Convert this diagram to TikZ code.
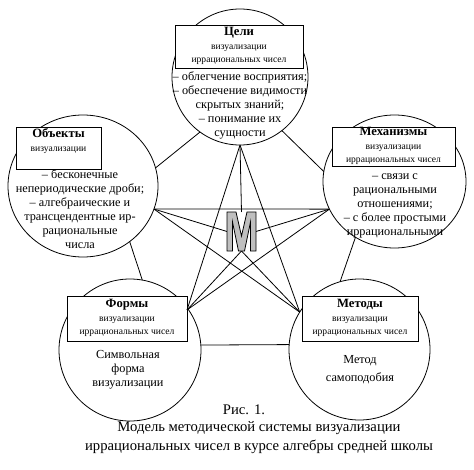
\documentclass[tikz,border=0pt]{standalone}
\usepackage{fontspec}
\setmainfont{Liberation Serif}
\usetikzlibrary{shapes.geometric}

\begin{document}
\begin{tikzpicture}[x=0.75pt, y=-0.75pt,
  ring/.style={draw, ellipse, inner sep=0pt, outer sep=0pt, line width=0.6pt},
  headbox/.style={draw, fill=white, align=center, inner sep=0pt, outer sep=0pt, line width=0.6pt, font=\fontsize{7.2}{9.8}\selectfont},
  bodytext/.style={align=center, inner sep=0pt, font=\fontsize{9.2}{10.5}\selectfont},
  link/.style={line width=0.6pt}]
\useasboundingbox (0,0) rectangle (474,470);
% five circles of the model
\node[ring, minimum width=102pt, minimum height=102pt] (celi) at (240,77) {};
\node[ring, minimum width=112.5pt, minimum height=106.5pt] (obj) at (83,186) {};
\node[ring, minimum width=107.25pt, minimum height=99.75pt] (mech) at (394.5,181.5) {};
\node[ring, minimum width=106.5pt, minimum height=106.5pt] (form) at (130,350) {};
\node[ring, minimum width=105.75pt, minimum height=105.75pt] (meth) at (359.5,349.5) {};
% outer pentagon
\draw[link] (celi.234) -- (obj.14);
\draw[link] (celi.308) -- (mech.172);
\draw[link] (obj.310) -- (form.80);
\draw[link] (mech.235) -- (meth.106);
\draw[link] (form.4) -- (meth.176);
% centre letter
\node[minimum width=21.75pt, minimum height=29.25pt, inner sep=0pt, outer sep=0pt] (emm) at (241.5,231.5) {};
% header boxes
\node[headbox, minimum width=96pt, minimum height=32.25pt, text depth=2pt] (celibox) at (239,46.5)
  {{\fontsize{9.5}{9.8}\selectfont\bfseries Цели}\\[0.7pt]визуализации\\иррациональных чисел};
\node[headbox, minimum width=63.75pt, minimum height=31.5pt, text depth=2pt] (objbox) at (58.5,148)
  {{\fontsize{9.5}{9.8}\selectfont\bfseries Объекты}\\[0.7pt]визуализации\\\mbox{}};
\node[headbox, minimum width=92.25pt, minimum height=29.25pt, text depth=2pt] (mechbox) at (393.5,146.5)
  {{\fontsize{9.5}{9.8}\selectfont\bfseries Механизмы}\\[0.7pt]визуализации\\иррациональных чисел};
\node[headbox, minimum width=90pt, minimum height=33.75pt, text depth=2pt] (formbox) at (127,318.5)
  {{\fontsize{9.5}{9.8}\selectfont\bfseries Формы}\\[0.7pt]визуализации\\иррациональных чисел};
\node[headbox, minimum width=87pt, minimum height=33.75pt, text depth=2pt] (methbox) at (360,318.5)
  {{\fontsize{9.5}{9.8}\selectfont\bfseries Методы}\\[0.7pt]визуализации\\иррациональных чисел};
% star vertices
\coordinate (vt) at (celi.south);
\coordinate (vl) at (obj.342);
\coordinate (vr) at (mech.203);
\coordinate (vbl) at ([yshift=6.4pt]formbox.east);
\coordinate (vbr) at (meth.148);
% star and spokes
\draw[link] (vt) -- (vbl) (vt) -- (vbr) (vl) -- (vr) (vl) -- (vbr) (vr) -- (vbl);
\draw[link] (vt) -- (emm.north) (vl) -- (emm.west) (vr) -- (emm.east)
  (vbl) -- (emm.south) (vbr) -- (emm.south);
\filldraw[shift={(emm.north west)}, fill=black!25, line width=0.6pt, line join=miter]
  (0,0) -- (9,0) -- (14.5,24) -- (20,0) -- (29,0) -- (29,39) -- (23.5,39) -- (23.5,10)
  -- (17.5,39) -- (11.5,39) -- (5.5,10) -- (5.5,39) -- (0,39) -- cycle;
% circle texts
\node[bodytext] (celitxt) at (240,105) {– облегчение восприятия;\\– обеспечение видимости\\скрытых знаний;\\– понимание их\\сущности};
\node[bodytext] (objtxt) at (80,209) {– бесконечные\\непериодические дроби;\\– алгебраические и\\трансцендентные ир-\\рациональные\\числа};
\node[bodytext] (mechtxt) at (395,206) {– связи с\\рациональными\\отношениями;\\– с более простыми\\иррациональными};
\node[bodytext] (formtxt) at (128,370) {Символьная\\форма\\визуализации};
\node[bodytext] (methtxt) at (360,369.5) {Метод\\[3pt]самоподобия};
% caption
\node[font=\fontsize{11}{14.6}\selectfont, inner sep=0pt] (ris) at (244,410) {Рис. 1.};
\node[font=\fontsize{11}{14.6}\selectfont, align=center, inner sep=0pt] (capt) at (259,437.5)
  {Модель методической системы визуализации\\иррациональных чисел в курсе алгебры средней школы};
\end{tikzpicture}
\end{document}
